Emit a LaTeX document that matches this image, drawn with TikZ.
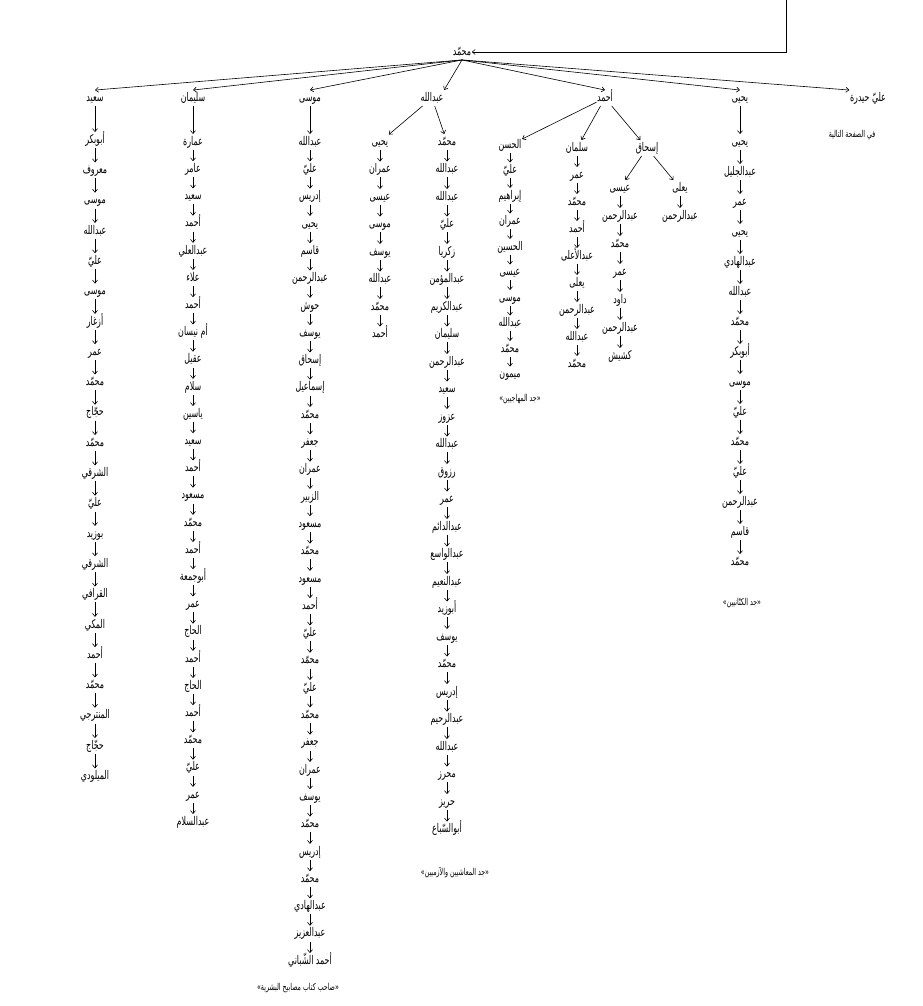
\documentclass[tikz,border=0pt]{standalone}
\usepackage{fontspec}
\newfontfamily\arabicfont[Script=Arabic,FakeStretch=0.66]{DejaVu Sans}
\TeXXeTstate=1
\usetikzlibrary{arrows.meta}

\newcommand{\artx}[1]{{\arabicfont\beginR #1\endR}}
\newcommand{\umnisan}{\beginR أم نيسان\endR}
\newcommand{\shabani}{\beginR أحمد الشّباني\endR}
\tikzset{
  person/.style={inner sep=0.5pt, font=\fontsize{12}{14}\selectfont, text height=10.5pt, text depth=4pt},
  note/.style={inner sep=1pt, font=\fontsize{9.5}{11}\selectfont},
  link/.style={-{Straight Barb[length=3pt,width=5pt]}, line width=0.6pt}
}
% one line of descent: parent, prefix, x, first y, step, names
\newcommand{\famchain}[6]{%
  \foreach \nm [count=\i] in {#6}{%
    \node[person] (#2\i) at (#3,{#4+(\i-1)*#5}) {\artx{\nm}};
    \ifnum\i=1 \draw[link] (#1) -- (#2\i);
    \else \pgfmathtruncatemacro\j{\i-1}\draw[link] (#2\j) -- (#2\i);
    \fi
  }%
}

\begin{document}
\begin{tikzpicture}[x=1pt,y=-1pt]
\useasboundingbox (0,0) rectangle (922,1006);

\node[person] (mhd) at (462,52) {\artx{محمّد}};
\coordinate (pg) at (786,0);
\draw[link] (pg) |- (mhd.east);

\node[person] (said) at (95,98) {\artx{سعيد}};
\node[person] (slm) at (193,98) {\artx{سليمان}};
\node[person] (msa) at (310,98) {\artx{موسى}};
\node[person] (abd) at (432,98) {\artx{عبدالله}};
\node[person] (ahm) at (605,98) {\artx{أحمد}};
\node[person] (yhy) at (740,98) {\artx{يحيى}};
\node[person] (alh) at (868,98) {\artx{\beginR عليّ حيدرة\endR}};
\node[note] (nxt) at (852,135) {\artx{\beginR في الصفحة التالية\endR}};

\foreach \k in {said,slm,msa,ahm,yhy}
  \draw[link] (mhd.south) -- (\k.north);
\draw[link] (mhd.south) -- (abd.north east);
\draw[link] (mhd.south) -- (alh.north west);

\famchain{said}{sd}{95}{140}{30.3}{أبوبكر,معروف,موسى,عبدالله,عليّ,موسى,أزغار,عمر,محمّد,حجّاج,محمّد,الشرقي,عليّ,بوزيد,الشرقي,القرافي,المكي,أحمد,محمّد,المنترجي,حجّاج,الميلودي}

\famchain{slm}{sl}{193}{142}{27.2}{عمارة,عامر,سعيد,أحمد,عبدالعلي,علاء,أحمد,\umnisan,عقيل,سلام,ياسين,سعيد,أحمد,مسعود,محمّد,أحمد,أبوجمعة,عمر,الحاج,أحمد,الحاج,أحمد,محمّد,عليّ,عمر,عبدالسلام}

\famchain{msa}{ms}{310}{142}{27.3}{عبدالله,عليّ,إدريس,يحيى,قاسم,عبدالرحمن,حوش,يوسف,إسحاق,إسماعيل,محمّد,جعفر,عمران,الزبير,مسعود,محمّد,مسعود,أحمد,عليّ,محمّد,عليّ,محمّد,جعفر,عمران,يوسف,محمّد,إدريس,محمّد,عبدالهادي,عبدالعزيز,\shabani}
\node[note] (mscap) at (298,988) {\artx{\beginR «صاحب كتاب مصابيح البشرية»\endR}};

\famchain{abd}{yh}{380}{142}{27.5}{يحيى,عمران,عيسى,موسى,يوسف,عبدالله,محمّد,أحمد}
\famchain{abd}{mh}{447}{142}{27.5}{محمّد,عبدالله,عبدالله,عليّ,زكريا,عبدالمؤمن,عبدالكريم,سليمان,عبدالرحمن,سعيد,عزوز,عبدالله,رزوق,عمر,عبدالدائم,عبدالواسع,عبدالنعيم,أبوزيد,يوسف,محمّد,إدريس,عبدالرحيم,عبدالله,محرز,حريز,أبوالسّباع}
\node[note] (mhcap) at (455,873) {\artx{\beginR «جد المعاشيين والآزميين»\endR}};

\famchain{ahm}{hs}{510}{145}{25.5}{الحسن,عليّ,إبراهيم,عمران,الحسين,عيسى,موسى,عبدالله,محمّد,ميمون}
\node[note] (hscap) at (520,399) {\artx{\beginR «جد المهاجيين»\endR}};
\famchain{ahm}{sn}{577}{148}{27}{سلمان,عمر,محمّد,أحمد,عبدالأعلى,يعلى,عبدالرحمن,عبدالله,محمّد}
\node[person] (ish) at (647,148) {\artx{إسحاق}};
\draw[link] (ahm) -- (ish);
\famchain{ish}{is}{620}{188}{28}{عيسى,عبدالرحمن,محمّد,عمر,داود,عبدالرحمن,كشيش}
\famchain{ish}{ya}{680}{188}{28}{يعلى,عبدالرحمن}

\famchain{yhy}{yy}{740}{142}{30}{يحيى,عبدالجليل,عمر,يحيى,عبدالهادي,عبدالله,محمّد,أبوبكر,موسى,عليّ,محمّد,عليّ,عبدالرحمن,قاسم,محمّد}
\node[note] (yycap) at (742,603) {\artx{\beginR «جد الكتّانيين»\endR}};
\end{tikzpicture}
\end{document}
